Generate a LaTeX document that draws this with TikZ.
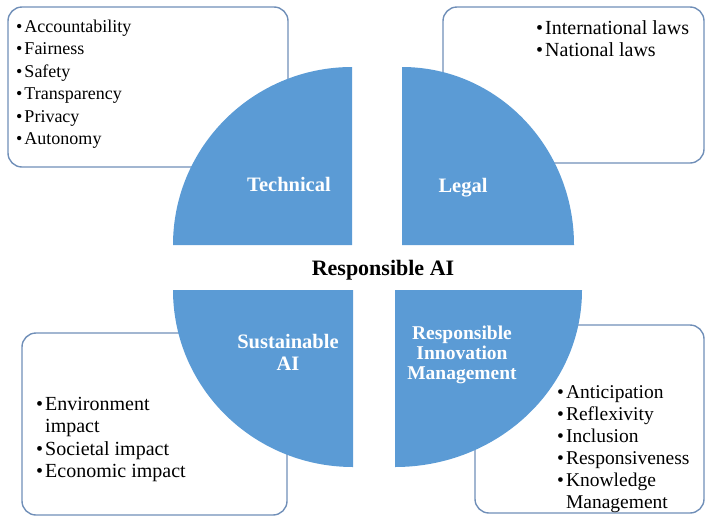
\documentclass[tikz,border=0pt]{standalone}
\usepackage{fontspec}
\setmainfont{Liberation Serif}
\definecolor{quadblue}{RGB}{91,155,213}
\definecolor{boxline}{RGB}{112,143,184}
\tikzset{
    listbox/.style={draw=boxline, line width=1.4pt, rounded corners=14pt},
    quad/.style={fill=quadblue},
    quadlabel/.style={text=white, font=\bfseries\fontsize{20.5}{22}\selectfont, align=center, inner sep=0pt},
    items/.style={anchor=base west, inner sep=0pt, font=\fontsize{20}{22.5}\selectfont}
}
\begin{document}
\begin{tikzpicture}[x=1pt,y=-1pt]
        \useasboundingbox (0,0) rectangle (706,517);
        \draw[listbox] (8,7) rectangle (288,167);
        \draw[listbox] (443,7) rectangle (704,163);
        \draw[listbox] (22,333) rectangle (287,515);
        \draw[listbox] (475,325) rectangle (704,513);
        \fill[quad] (352,245) -- (173,245) arc[start angle=180, end angle=270, x radius=179, y radius=178] -- cycle;
        \fill[quad] (402,245) -- (402,67) arc[start angle=270, end angle=360, x radius=172, y radius=178] -- cycle;
        \fill[quad] (353,290) -- (173,290) arc[start angle=180, end angle=90, x radius=180, y radius=177] -- cycle;
        \fill[quad] (395,290) -- (582,290) arc[start angle=0, end angle=90, x radius=187, y radius=177] -- cycle;
        \node[fill=white, minimum width=171pt, minimum height=38pt, text depth=0pt,
              font=\bfseries\fontsize{22}{24}\selectfont] (core) at (383,268) {Responsible AI};
        \node[quadlabel, anchor=base] (technical) at (289,191) {Technical};
        \node[quadlabel, anchor=base] (legal) at (463,192) {Legal};
        \node[quadlabel] (sustain) at (288,352) {Sustainable\\AI};
        \node[quadlabel, font=\bfseries\fontsize{19.5}{20}\selectfont] (rim) at (462,355) {Responsible\\Innovation\\Management};
        \node[items, font=\fontsize{18}{22.5}\selectfont] (techlist) at (16,32) {%
            \begin{tabular}[t]{@{}l@{\hspace{2pt}}l@{}}
            \textbullet & Accountability\\
            \textbullet & Fairness\\
            \textbullet & Safety\\
            \textbullet & Transparency\\
            \textbullet & Privacy\\
            \textbullet & Autonomy
            \end{tabular}};
        \node[items] (legallist) at (536,34) {%
            \begin{tabular}[t]{@{}l@{\hspace{2pt}}l@{}}
            \textbullet & International laws\\
            \textbullet & National laws
            \end{tabular}};
        \node[items] (sustainlist) at (36,410) {%
            \begin{tabular}[t]{@{}l@{\hspace{2pt}}l@{}}
            \textbullet & Environment\\
                        & impact\\
            \textbullet & Societal impact\\
            \textbullet & Economic impact
            \end{tabular}};
        \node[items, font=\fontsize{19.5}{22}\selectfont] (rimlist) at (557,398) {%
            \begin{tabular}[t]{@{}l@{\hspace{2pt}}l@{}}
            \textbullet & Anticipation\\
            \textbullet & Reflexivity\\
            \textbullet & Inclusion\\
            \textbullet & Responsiveness\\
            \textbullet & Knowledge\\
                        & Management
            \end{tabular}};
    \end{tikzpicture}
\end{document}
